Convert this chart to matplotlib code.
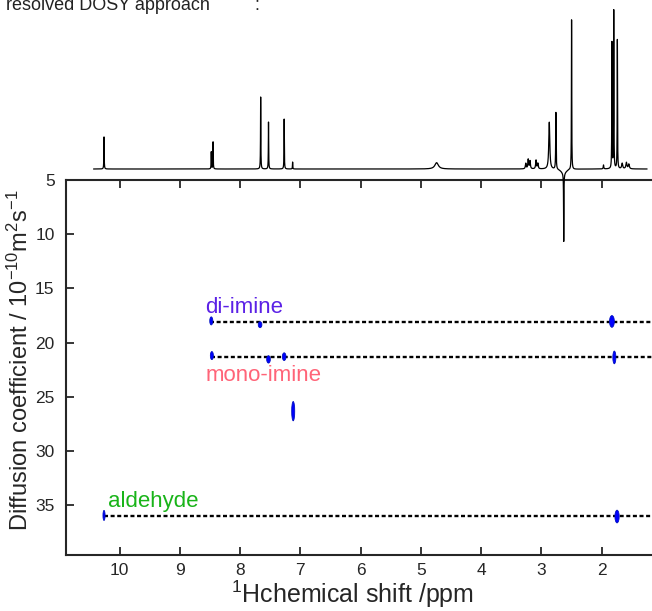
import numpy as np
import matplotlib
matplotlib.use("Agg")
import matplotlib.pyplot as plt
from matplotlib.patches import Ellipse

plt.rcParams['font.family'] = ['Liberation Sans', 'DejaVu Sans']
plt.rcParams['mathtext.fontset'] = 'custom'
plt.rcParams['mathtext.rm'] = 'Liberation Sans'
plt.rcParams['mathtext.it'] = 'Liberation Sans'
plt.rcParams['mathtext.bf'] = 'Liberation Sans'

# ---------------- data ----------------
# 1D 1H spectrum peak list (ppm, relative height, FWHM ppm)
peak_ppm = [10.26, 8.48, 8.45, 7.66, 7.53, 7.27, 7.13, 4.74,
            3.26, 3.22, 3.19, 3.09, 3.06, 2.87, 2.76, 2.63, 2.63,
            2.50, 1.97, 1.83, 1.80, 1.74, 1.66, 1.59, 1.55]
peak_height = [0.203, 0.108, 0.171, 0.456, 0.297, 0.316, 0.044, 0.040,
               0.035, 0.060, 0.050, 0.055, 0.035, 0.297, 0.360, -0.43, -0.03,
               0.949, 0.025, 0.797, 1.000, 0.816, 0.035, 0.040, 0.030]
peak_fwhm = [0.006, 0.006, 0.006, 0.006, 0.006, 0.006, 0.006, 0.07,
             0.015, 0.015, 0.015, 0.015, 0.015, 0.02, 0.008, 0.006, 0.10,
             0.006, 0.01, 0.006, 0.006, 0.006, 0.02, 0.02, 0.02]
spec_range = (10.43, 1.25)

# DOSY cross peaks
spot_ppm = [8.48, 7.67, 1.83, 8.47, 7.53, 7.27, 1.79, 7.12, 10.26, 1.745]
spot_D = [18.0, 18.35, 18.05, 21.2, 21.55, 21.3, 21.37, 26.33, 35.95, 36.05]
spot_dD = [0.74, 0.55, 1.08, 0.74, 0.68, 0.71, 1.17, 1.78, 0.92, 1.17]
spot_dppm = [0.05, 0.06, 0.08, 0.05, 0.06, 0.06, 0.05, 0.05, 0.035, 0.07]

# Species diffusion lines
species = ['di-imine', 'mono-imine', 'aldehyde']
species_D = [18.14, 21.37, 36.0]
species_start = [8.50, 8.48, 10.26]
species_color = ['#5B21E6', '#FF6478', '#19B419']
label_ppm = [8.58, 8.57, 10.20]
label_D = [17.27, 23.5, 35.16]

xticks = [10, 9, 8, 7, 6, 5, 4, 3, 2]
yticks = [5, 10, 15, 20, 25, 30, 35]

# ---------------- figure ----------------
W, H = 652, 611
fig = plt.figure(figsize=(W / 100, H / 100), dpi=100)

def fx(px):
    return px / W

def fy(py):
    return 1 - py / H

left, right, top, bottom = 65.7, 652, 180, 555
ax = fig.add_axes([fx(left), fy(bottom), fx(right - left), (bottom - top) / H])
ax.set_xlim(10.896, 1.165)
ax.set_ylim(39.6, 5)

ink = '#262626'
for s in ['left', 'bottom', 'top']:
    ax.spines[s].set_color(ink)
    ax.spines[s].set_linewidth(1.5)
ax.spines['right'].set_visible(False)
ax.set_xticks(xticks)
ax.set_yticks(yticks)
ax.tick_params(direction='in', length=5.5, width=1.3, colors=ink,
               labelsize=12.5, top=True, right=False)
ax.tick_params(axis='x', pad=6)
ax.tick_params(axis='y', pad=8)

ax.set_xlabel(r'$^{1}$Hchemical shift /ppm', fontsize=18, color=ink)
ax.set_ylabel(r'Diffusion coefficient / 10$^{-10}$m$^{2}$s$^{-1}$', fontsize=17, color=ink)
ax.xaxis.set_label_coords(0.49, -0.064)
ax.yaxis.set_label_coords(-0.056, 0.52)

# dashed species lines
for d, x0 in zip(species_D, species_start):
    ax.plot([x0, 1.0], [d, d], color='black', lw=1.7, dashes=(1.7, 1.1), zorder=2)

# cross peaks
for p, d, hh, ww in zip(spot_ppm, spot_D, spot_dD, spot_dppm):
    ax.add_patch(Ellipse((p, d), ww, hh, facecolor='#0000FF', edgecolor='#0010C0',
                         lw=0.6, zorder=3))

for name, c, xp, yd in zip(species, species_color, label_ppm, label_D):
    ax.text(xp, yd, name, color=c, fontsize=16, ha='left', va='baseline')

# 1D spectrum on top
sp_bottom, sp_top = 245, 0
sax = fig.add_axes([fx(left), fy(sp_bottom), fx(right - left), (sp_bottom - sp_top) / H],
                   zorder=5)
sax.patch.set_alpha(0)
sax.axis('off')
sax.set_xlim(10.896, 1.165)
base_px = 169
unit = 158.0
sax.set_ylim(-(sp_bottom - base_px) / unit, base_px / unit)
x = np.linspace(spec_range[0], spec_range[1], 40000)
y = np.zeros_like(x)
for p0, h0, w0 in zip(peak_ppm, peak_height, peak_fwhm):
    y += h0 / (1 + ((x - p0) / (w0 / 2)) ** 2)
sax.plot(x, y, color='black', lw=0.9)

# partially visible caption text at the top (cut off in the reference too)
fig.text(fx(6), fy(10), 'resolved DOSY approach', fontsize=13, color='#222222', va='baseline')
fig.text(fx(254), fy(10), ':', fontsize=13, color='#222222', va='baseline')

fig.savefig('out.png', dpi=100)
